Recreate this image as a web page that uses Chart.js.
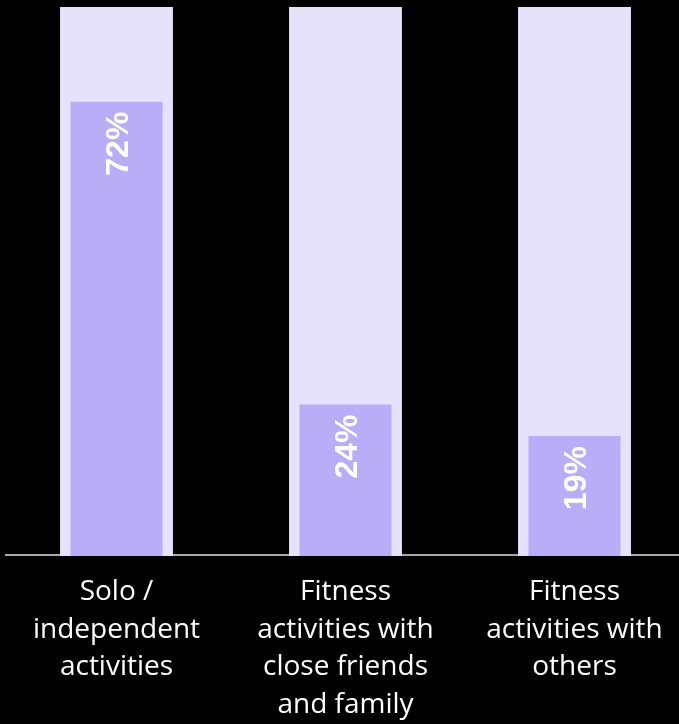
<!DOCTYPE html>
<html>
<head>
<meta charset="utf-8">
<script src="https://cdn.jsdelivr.net/npm/chart.js@4/dist/chart.umd.min.js"></script>
<style>
  html, body { margin: 0; padding: 0; background: #000; overflow: hidden; }
  #wrap { width: 690px; height: 724px; }
</style>
</head>
<body>
<div id="wrap"><canvas id="chart" width="690" height="724"></canvas></div>
<script>
// Preferred ways of being active (share of respondents, %)
const categories = [
  ["Solo /", "independent", "activities"],
  ["Fitness", "activities with", "close friends", "and family"],
  ["Fitness", "activities with", "others"]
];
const shares = [72, 24, 19];
// full-height track behind each bar (100%)
const track = [100, 100, 100];

const TRACK_COLOR = '#E6E2FC';
const BAR_COLOR = '#B8ADF6';

// baseline drawn under the bars, starting a little inside the left edge
const baseline = {
  id: 'baseline',
  beforeDatasetsDraw(chart) {
    const { ctx, chartArea } = chart;
    ctx.save();
    ctx.strokeStyle = '#A9A9A9';
    ctx.lineWidth = 2;
    ctx.beginPath();
    ctx.moveTo(5, chartArea.bottom - 1);
    ctx.lineTo(chartArea.right, chartArea.bottom - 1);
    ctx.stroke();
    ctx.restore();
  }
};

// rotated percentage labels at the top of each bar
const barLabels = {
  id: 'barLabels',
  afterDatasetsDraw(chart) {
    const { ctx } = chart;
    const meta = chart.getDatasetMeta(0);
    const size = 32;
    ctx.save();
    ctx.fillStyle = '#FFFFFF';
    ctx.font = 'bold ' + size + 'px "Liberation Sans", Arial, sans-serif';
    ctx.textAlign = 'right';
    ctx.textBaseline = 'alphabetic';
    meta.data.forEach((bar, i) => {
      ctx.save();
      ctx.translate(bar.x, bar.y + 10);
      ctx.rotate(-Math.PI / 2);
      ctx.fillText(shares[i] + '%', 0, size * 0.358);
      ctx.restore();
    });
    ctx.restore();
  }
};

new Chart(document.getElementById('chart'), {
  type: 'bar',
  data: {
    labels: categories,
    datasets: [
      {
        data: shares,
        backgroundColor: BAR_COLOR,
        barPercentage: 0.402,
        categoryPercentage: 1,
        grouped: false,
        yAxisID: 'y',
        order: 1
      },
      {
        data: track,
        backgroundColor: TRACK_COLOR,
        barPercentage: 0.493,
        categoryPercentage: 1,
        grouped: false,
        yAxisID: 'y2',
        order: 2
      }
    ]
  },
  options: {
    responsive: false,
    animation: false,
    layout: { padding: { left: 2, right: 1, top: 7, bottom: 0 } },
    plugins: { legend: { display: false }, tooltip: { enabled: false } },
    scales: {
      x: {
        grid: { display: false, drawTicks: false },
        border: { display: false },
        ticks: {
          color: '#FFFFFF',
          padding: 17,
          maxRotation: 0,
          autoSkip: false,
          font: { family: '"Open Sans", sans-serif', size: 28, lineHeight: 1.35 }
        },
        afterFit(scale) { scale.height = 168; }
      },
      y: {
        display: false,
        min: 0,
        max: 87
      },
      y2: {
        display: false,
        min: 0,
        max: 100
      }
    }
  },
  plugins: [baseline, barLabels]
});
</script>
</body>
</html>
